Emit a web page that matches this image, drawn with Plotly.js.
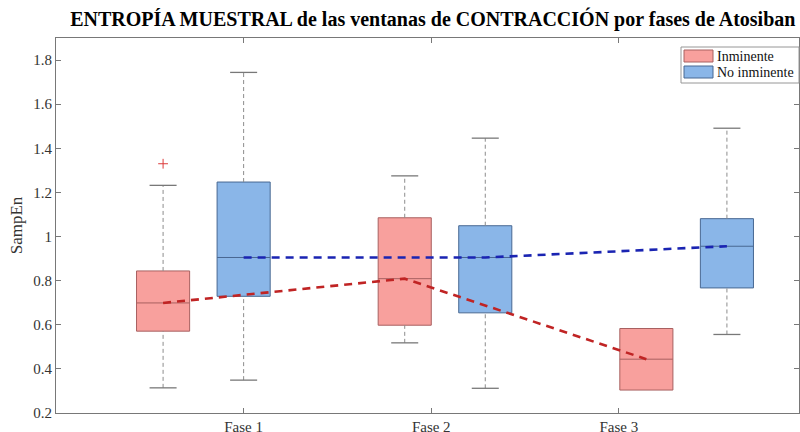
<!DOCTYPE html>
<html>
<head>
<meta charset="utf-8">
<script src="https://cdn.plot.ly/plotly-3.0.1.min.js"></script>
<style>html,body{margin:0;padding:0;background:#fff;}#chart{width:800px;height:432px;}</style>
</head>
<body>
<div id="chart"></div>
<script>
// ---- data ----
const groups = ['Fase 1', 'Fase 2', 'Fase 3'];
const seriesNames = ['Inminente', 'No inminente'];

const inmQ1  = [0.571, 0.598, 0.304];
const inmMed = [0.699, 0.809, 0.444];
const inmQ3  = [0.844, 1.085, 0.583];
const inmLo  = [0.314, 0.518, 0.304];
const inmHi  = [1.232, 1.275, 0.583];
const inmOut = [[1.33], [], []];

const noQ1  = [0.729, 0.654, 0.767];
const noMed = [0.905, 0.905, 0.956];
const noQ3  = [1.247, 1.049, 1.081];
const noLo  = [0.349, 0.312, 0.556];
const noHi  = [1.744, 1.446, 1.491];
const noOut = [[], [], []];

const yTicks = [0.2, 0.4, 0.6, 0.8, 1, 1.2, 1.4, 1.6, 1.8];

// ---- layout helpers ----
const step = 0.4293;               // spacing between box slots
const slotOf = (g, s) => 1 + (3 * g + s - 1) * step; // s=0 red, s=1 blue
const boxW = 0.283, capW = 0.144;

const styles = [
  {fill: 'rgb(248,160,157)', edge: 'rgb(168,96,96)', out: 'rgb(220,60,60)', dash: 'rgb(192,36,36)'},
  {fill: 'rgb(138,182,232)', edge: 'rgb(72,104,146)', out: 'rgb(60,90,200)', dash: 'rgb(26,36,178)'}
];
const series = [
  {q1: inmQ1, med: inmMed, q3: inmQ3, lo: inmLo, hi: inmHi, out: inmOut},
  {q1: noQ1, med: noMed, q3: noQ3, lo: noLo, hi: noHi, out: noOut}
];

const traces = [];
// whiskers (dashed) and caps (solid)
series.forEach((sr, s) => {
  const wx = [], wy = [], cx = [], cy = [];
  groups.forEach((g, i) => {
    const x = slotOf(i, s);
    if (sr.hi[i] > sr.q3[i]) { wx.push(x, x, null); wy.push(sr.q3[i], sr.hi[i], null); }
    if (sr.lo[i] < sr.q1[i]) { wx.push(x, x, null); wy.push(sr.lo[i], sr.q1[i], null); }
    if (sr.hi[i] > sr.q3[i]) { cx.push(x - capW / 2, x + capW / 2, null); cy.push(sr.hi[i], sr.hi[i], null); }
    if (sr.lo[i] < sr.q1[i]) { cx.push(x - capW / 2, x + capW / 2, null); cy.push(sr.lo[i], sr.lo[i], null); }
  });
  traces.push({type: 'scatter', mode: 'lines', x: wx, y: wy, showlegend: false, hoverinfo: 'skip',
    line: {color: 'rgb(140,140,140)', width: 1, dash: '4px,3px'}});
  traces.push({type: 'scatter', mode: 'lines', x: cx, y: cy, showlegend: false, hoverinfo: 'skip',
    line: {color: 'rgb(120,120,120)', width: 1.3}});
});
// boxes
series.forEach((sr, s) => {
  traces.push({
    type: 'box', name: seriesNames[s], showlegend: false,
    x: groups.map((g, i) => slotOf(i, s)),
    q1: sr.q1, median: sr.med, q3: sr.q3,
    lowerfence: sr.q1, upperfence: sr.q3,
    width: boxW, whiskerwidth: 0, boxpoints: false,
    fillcolor: styles[s].fill,
    line: {color: styles[s].edge, width: 1}
  });
});
// outliers
series.forEach((sr, s) => {
  const ox = [], oy = [];
  groups.forEach((g, i) => sr.out[i].forEach(v => { ox.push(slotOf(i, s)); oy.push(v); }));
  traces.push({type: 'scatter', mode: 'markers', x: ox, y: oy, showlegend: false, hoverinfo: 'skip',
    marker: {symbol: 'cross-thin', size: 7, line: {color: styles[s].out, width: 1}}});
});
// median connecting lines
series.forEach((sr, s) => {
  traces.push({type: 'scatter', mode: 'lines', x: groups.map((g, i) => slotOf(i, s)), y: sr.med,
    showlegend: false, hoverinfo: 'skip',
    line: {color: styles[s].dash, width: 2.6, dash: '8px,6px'}});
});

// manual legend (MATLAB style)
const L = 56, R = 799, T = 38, B = 413;
const px = v => (v - L) / (R - L);
const py = v => (B - v) / (B - T);
const shapes = [
  {type: 'rect', xref: 'paper', yref: 'paper', x0: px(681), x1: px(799), y0: py(83), y1: py(47),
    fillcolor: 'white', line: {color: 'rgb(150,150,150)', width: 1}, layer: 'above'}
];
const annotations = [];
seriesNames.forEach((n, s) => {
  const cyTop = 50 + s * 16;
  shapes.push({type: 'rect', xref: 'paper', yref: 'paper', x0: px(684), x1: px(713), y0: py(cyTop + 12), y1: py(cyTop),
    fillcolor: styles[s].fill, line: {color: styles[s].edge, width: 1}, layer: 'above'});
  annotations.push({xref: 'paper', yref: 'paper', x: px(715), y: py(cyTop + 6), xanchor: 'left', yanchor: 'middle',
    text: n, showarrow: false, font: {family: 'Liberation Serif', size: 14, color: '#111'}});
});

const axisCommon = {
  showline: true, linecolor: 'rgb(120,120,120)', linewidth: 1, mirror: 'ticks',
  ticks: 'inside', ticklen: 5, tickcolor: 'rgb(120,120,120)', tickwidth: 1,
  showgrid: false, zeroline: false,
  tickfont: {family: 'Liberation Serif', size: 15, color: '#333'}
};

const layout = {
  width: 800, height: 432,
  margin: {l: L, r: 800 - R, t: T, b: 432 - B},
  paper_bgcolor: 'white', plot_bgcolor: 'white',
  showlegend: false,
  title: {text: '<b>ENTROPÍA MUESTRAL de las ventanas de CONTRACCIÓN por fases de Atosiban</b>',
    font: {family: 'Liberation Serif', size: 20, color: '#000'},
    x: 0.541, xref: 'container', xanchor: 'center', y: 1 - 19 / 432, yref: 'container', yanchor: 'middle'},
  xaxis: Object.assign({}, axisCommon, {
    range: [0, 3.96], tickmode: 'array', tickvals: [1, 2, 3], ticktext: groups
  }),
  yaxis: Object.assign({}, axisCommon, {
    range: [0.2, 1.9], tickmode: 'array', tickvals: yTicks, ticktext: yTicks.map(String),
    title: {text: 'SampEn', font: {family: 'Liberation Serif', size: 17, color: '#333'}, standoff: 6}
  }),
  shapes: shapes,
  annotations: annotations
};

Plotly.newPlot('chart', traces, layout, {staticPlot: true, displayModeBar: false});
</script>
</body>
</html>
